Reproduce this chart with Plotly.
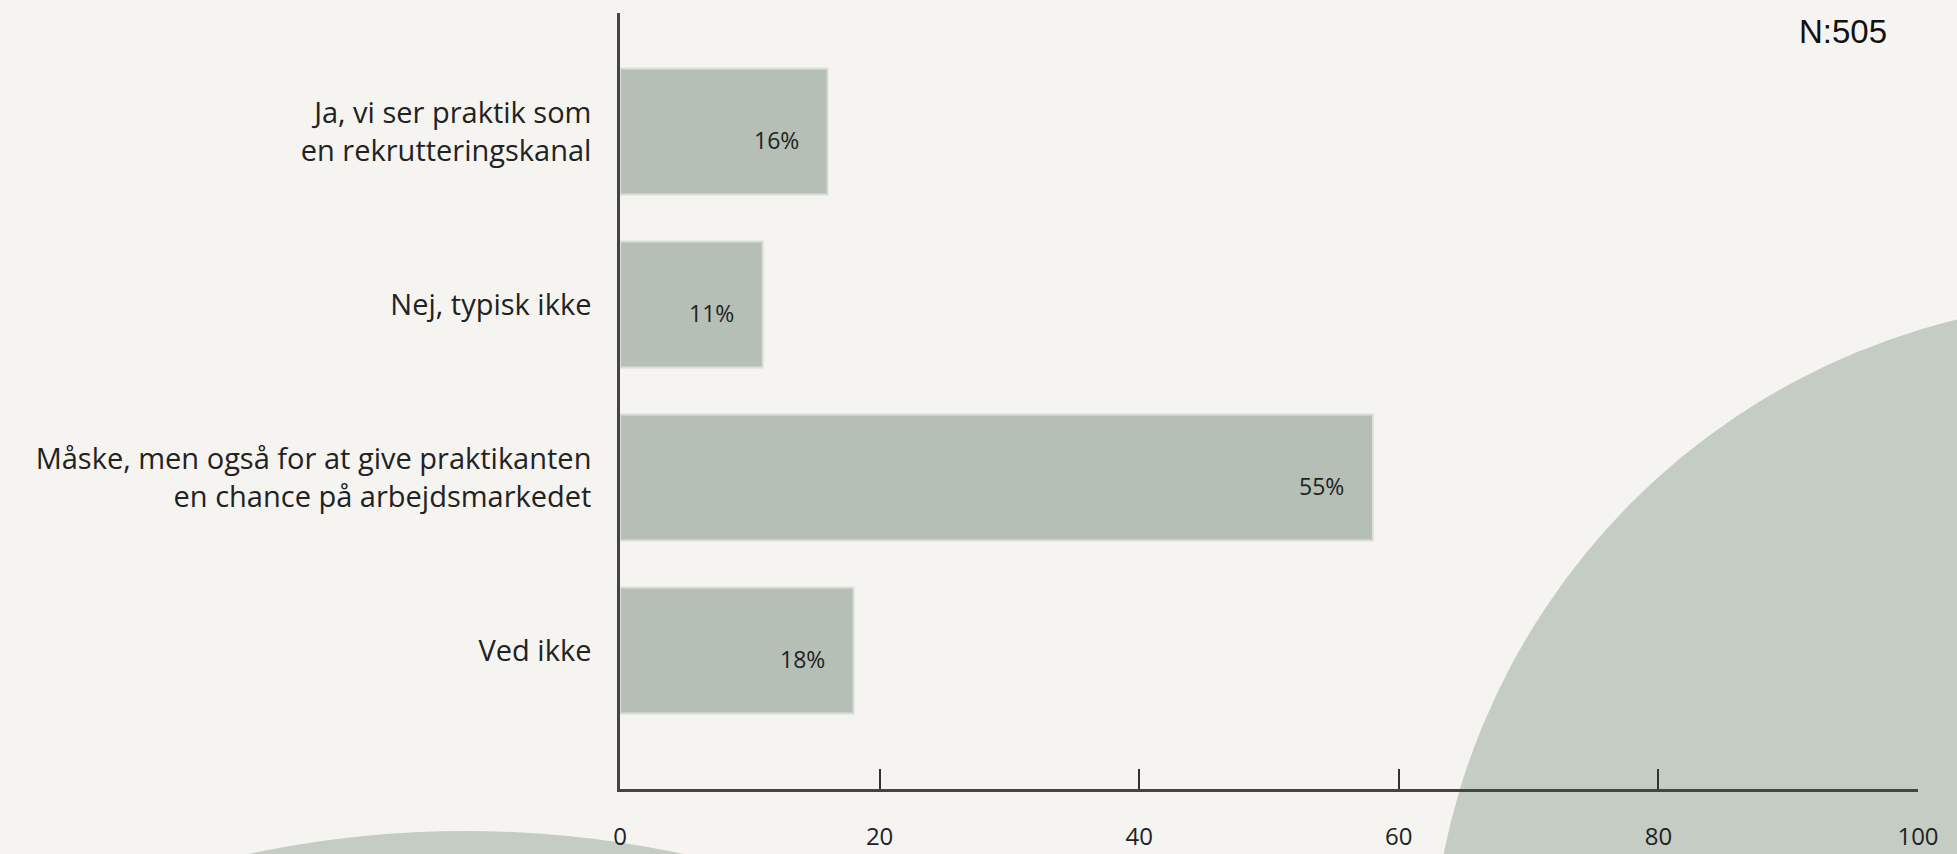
import plotly.graph_objects as go

categories = [
    "Ja, vi ser praktik som<br>en rekrutteringskanal",
    "Nej, typisk ikke",
    "Måske, men også for at give praktikanten<br>en chance på arbejdsmarkedet",
    "Ved ikke",
]
bar_values = [16, 11, 58, 18]
bar_labels = ["16%", "11%", "55%", "18%"]
x_ticks = [0, 20, 40, 60, 80, 100]
n_text = "N:505"

W, H = 1957, 854
L, R, T, B = 620, 1918, 13, 789
FONT = "Open Sans, Lato, sans-serif"
TXT = "#222222"


def px(X):
    return (X - L) / (R - L)


def py(Y):
    return (B - Y) / (B - T)


fig = go.Figure()
fig.add_trace(go.Bar(
    y=categories, x=bar_values, orientation="h", width=0.728,
    marker=dict(color="#b5bfb6", line=dict(color="#dadfd8", width=2)),
    hoverinfo="skip", showlegend=False,
))

annotations = []
for c, v, t in zip(categories, bar_values, bar_labels):
    annotations.append(dict(
        x=v, y=c, xref="x", yref="y", text=t, showarrow=False,
        xanchor="right", yanchor="middle", xshift=-27, yshift=-8,
        font=dict(family=FONT, size=23, color=TXT),
    ))
annotations.append(dict(
    x=px(1889), y=py(31), xref="paper", yref="paper", text=n_text,
    showarrow=False, xanchor="right", yanchor="middle",
    font=dict(family="Liberation Sans, Arial, sans-serif", size=33, color="#111111"),
))

shapes = [
    dict(type="circle", xref="paper", yref="paper", layer="below",
         x0=px(1430), x1=px(2810), y0=py(1680), y1=py(300),
         fillcolor="#c5ccc4", line=dict(width=0)),
    dict(type="circle", xref="paper", yref="paper", layer="below",
         x0=px(-574), x1=px(1506), y0=py(2911), y1=py(831),
         fillcolor="#c5ccc4", line=dict(width=0)),
]

fig.update_layout(
    width=W, height=H,
    margin=dict(l=L, r=W - R, t=T, b=H - B, pad=0, autoexpand=False),
    paper_bgcolor="#f5f4f0", plot_bgcolor="rgba(0,0,0,0)",
    annotations=annotations, shapes=shapes,
)
fig.update_xaxes(
    range=[0, 100], tickvals=x_ticks, showgrid=False, zeroline=False,
    automargin=False,
    showline=True, linecolor="#444444", linewidth=2.5,
    ticks="inside", ticklen=20, tickwidth=2, tickcolor="#333333",
    ticklabelstandoff=24,
    tickfont=dict(family=FONT, size=24, color=TXT),
)
fig.update_yaxes(
    type="category", categoryorder="array", categoryarray=categories,
    range=[3.80, -0.685], showgrid=False, zeroline=False,
    automargin=False,
    showline=True, linecolor="#444444", linewidth=2.5, ticks="",
    ticklabelstandoff=20,
    tickfont=dict(family=FONT, size=29, color=TXT),
)

fig.write_html("out.html", config={"displayModeBar": False})
